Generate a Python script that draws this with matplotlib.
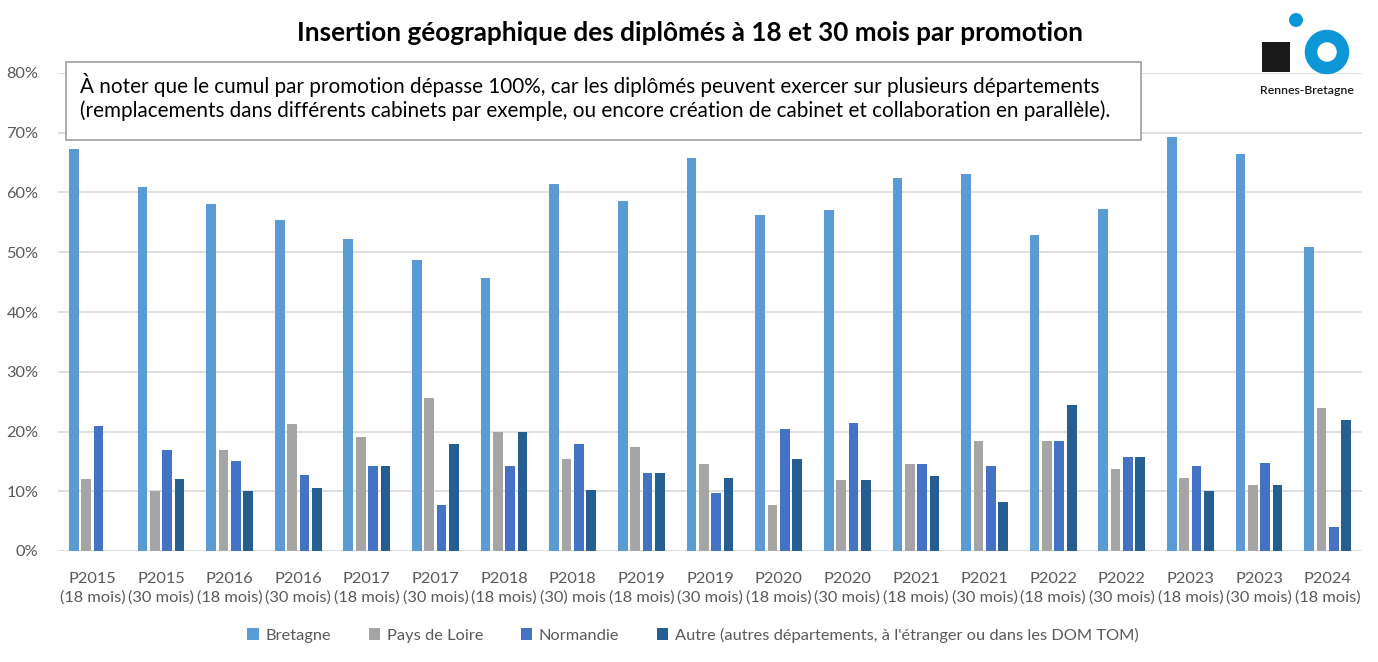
import numpy as np
import matplotlib
matplotlib.use('Agg')
import matplotlib.pyplot as plt
from matplotlib.patches import Rectangle, Circle

plt.rcParams['font.family'] = ['Lato', 'DejaVu Sans']

promos = ['P2015', 'P2015', 'P2016', 'P2016', 'P2017', 'P2017', 'P2018', 'P2018', 'P2019', 'P2019',
          'P2020', 'P2020', 'P2021', 'P2021', 'P2022', 'P2022', 'P2023', 'P2023', 'P2024']
delais = ['(18 mois)', '(30 mois)', '(18 mois)', '(30 mois)', '(18 mois)', '(30 mois)', '(18 mois)', '(30) mois',
          '(18 mois)', '(30 mois)', '(18 mois)', '(30 mois)', '(18 mois)', '(30 mois)', '(18 mois)', '(30 mois)',
          '(18 mois)', '(30 mois)', '(18 mois)']

bretagne = [67.2, 61.0, 58.0, 55.4, 52.2, 48.7, 45.7, 61.4, 58.6, 65.8,
            56.2, 57.1, 62.4, 63.1, 52.9, 57.2, 69.3, 66.4, 50.9]
pays_loire = [12.0, 10.0, 16.9, 21.2, 19.1, 25.6, 19.9, 15.4, 17.4, 14.5,
              7.7, 11.8, 14.5, 18.4, 18.4, 13.7, 12.2, 11.0, 23.9]
normandie = [20.9, 16.9, 15.0, 12.7, 14.2, 7.7, 14.2, 17.9, 13.0, 9.7,
             20.4, 21.4, 14.5, 14.2, 18.4, 15.7, 14.2, 14.7, 4.0]
autre = [0.0, 12.0, 10.0, 10.5, 14.2, 17.9, 19.9, 10.2, 13.0, 12.2,
         15.4, 11.8, 12.5, 8.2, 24.4, 15.7, 10.1, 11.0, 21.9]

series = [
    ('Bretagne', bretagne, '#5B9BD5'),
    ('Pays de Loire', pays_loire, '#A5A5A5'),
    ('Normandie', normandie, '#4472C4'),
    ("Autre (autres départements, à l'étranger ou dans les DOM TOM)", autre, '#255E91'),
]

W, H = 1378, 662
fig = plt.figure(figsize=(W / 100, H / 100), dpi=100)
ax = fig.add_axes([58 / W, 1 - 551 / H, (1362 - 58) / W, (551 - 73) / H])

x = np.arange(len(promos))
step, bw = 0.18, 0.141
for i, (name, vals, col) in enumerate(series):
    ax.bar(x + (i - 1.5) * step, vals, width=bw, color=col, label=name, zorder=2)

ax.set_xlim(-0.5, len(promos) - 0.5)
ax.set_ylim(0, 80)
ax.set_yticks(np.arange(0, 81, 10))
ax.set_yticklabels([f'{v}%' for v in range(0, 81, 10)])
ax.set_xticks(x)
ax.set_xticklabels([f'{p}\n{d}' for p, d in zip(promos, delais)], linespacing=1.4)
ax.tick_params(axis='both', length=0, colors='#595959', labelsize=11.8)
ax.tick_params(axis='y', pad=14)
ax.tick_params(axis='x', pad=15)
ax.grid(axis='y', color='#D9D9D9', lw=1.2, zorder=0)
ax.set_axisbelow(True)
for s in ax.spines.values():
    s.set_visible(False)

leg = ax.legend(loc='center', bbox_to_anchor=(693 / W, 1 - 635 / H), bbox_transform=fig.transFigure,
                ncol=4, frameon=False, fontsize=11.8, handlelength=0.7, handleheight=0.7,
                handletextpad=0.4, columnspacing=2.3)
for t in leg.get_texts():
    t.set_color('#595959')

fig.text(690 / W, 1 - 33 / H, 'Insertion géographique des diplômés à 18 et 30 mois par promotion',
         ha='center', va='center', fontsize=18.8, fontweight='bold', color='black')

# encadré de remarque
fig.add_artist(Rectangle((66 / W, 1 - 140 / H), (1141 - 66) / W, 78 / H, transform=fig.transFigure,
                         fc='white', ec='#A6A6A6', lw=1.3, zorder=5))
fig.text(80 / W, 1 - 85 / H, 'À noter que le cumul par promotion dépasse 100%, car les diplômés peuvent exercer sur plusieurs départements',
         ha='left', va='center', fontsize=14.9, color='black', zorder=6)
fig.text(80 / W, 1 - 111 / H, '(remplacements dans différents cabinets par exemple, ou encore création de cabinet et collaboration en parallèle).',
         ha='left', va='center', fontsize=14.9, color='black', zorder=6)

# logo
blue = '#0E97D6'
fig.add_artist(Rectangle((1262 / W, 1 - 72 / H), 28 / W, 30 / H, transform=fig.transFigure,
                         fc='#1A1A1A', ec='none', zorder=5))
fig.add_artist(Circle((1327, H - 52), 16, transform=None, fc='none', ec=blue, lw=9, zorder=5))
fig.add_artist(Circle((1296, H - 20), 7, transform=None, fc=blue, ec='none', zorder=5))
fig.text(1307 / W, 1 - 90 / H, 'Rennes-Bretagne', ha='center', va='center', fontsize=8.8,
         fontweight='semibold', color='#1A1A1A', zorder=6)

fig.savefig('out.png', dpi=100)
